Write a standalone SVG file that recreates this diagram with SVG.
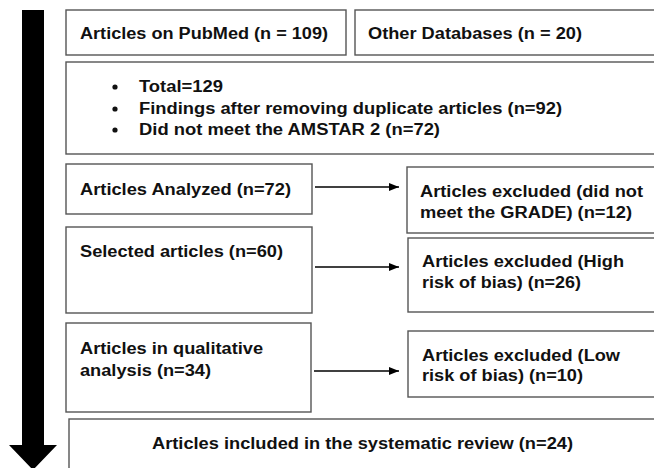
<svg xmlns="http://www.w3.org/2000/svg" width="654" height="468" viewBox="0 0 654 468">
<defs>
<style>
.b{fill:#fff;stroke:#555;stroke-width:1.4}
.t{font-family:"Liberation Sans",Arial,sans-serif;font-weight:bold;font-size:16px;fill:#111}
.c{stroke:#000;stroke-width:1.4;fill:none}
</style>
<marker id="ah" markerWidth="10" markerHeight="8" refX="10" refY="4" orient="auto" markerUnits="userSpaceOnUse">
<path d="M0,0 L10,4 L0,8 Z" fill="#000"/>
</marker>
</defs>
<rect width="654" height="468" fill="#fff"/>
<g id="flow-arrow">
<path d="M22,10 H44 V445 H57 L33,470 L9,445 H22 Z" fill="#000"/>
</g>
<g id="pubmed">
<rect class="b" x="66" y="10" width="280" height="45"/>
<text class="t" x="80" y="39" textLength="248" lengthAdjust="spacingAndGlyphs">Articles on PubMed (n = 109)</text>
</g>
<g id="other">
<rect class="b" x="355" y="10" width="310" height="45"/>
<text class="t" x="368" y="39" textLength="214" lengthAdjust="spacingAndGlyphs">Other Databases (n = 20)</text>
</g>
<g id="screening">
<rect class="b" x="66" y="62" width="600" height="92"/>
<circle cx="115" cy="87" r="2.6" fill="#111"/>
<circle cx="115" cy="109" r="2.6" fill="#111"/>
<circle cx="115" cy="130" r="2.6" fill="#111"/>
<text class="t" x="139" y="92" textLength="84" lengthAdjust="spacingAndGlyphs">Total=129</text>
<text class="t" x="139" y="114" textLength="423" lengthAdjust="spacingAndGlyphs">Findings after removing duplicate articles (n=92)</text>
<text class="t" x="139" y="135" textLength="301" lengthAdjust="spacingAndGlyphs">Did not meet the AMSTAR 2 (n=72)</text>
</g>
<g id="analyzed">
<rect class="b" x="66" y="164" width="246" height="50"/>
<text class="t" x="80" y="195" textLength="211" lengthAdjust="spacingAndGlyphs">Articles Analyzed (n=72)</text>
</g>
<g id="selected">
<rect class="b" x="66" y="227" width="246" height="86"/>
<text class="t" x="80" y="257" textLength="203" lengthAdjust="spacingAndGlyphs">Selected articles (n=60)</text>
</g>
<g id="qualitative">
<rect class="b" x="66" y="323" width="245" height="89"/>
<text class="t" x="80" y="354" textLength="183" lengthAdjust="spacingAndGlyphs">Articles in qualitative</text>
<text class="t" x="80" y="376" textLength="131" lengthAdjust="spacingAndGlyphs">analysis (n=34)</text>
</g>
<g id="included">
<rect class="b" x="69" y="419" width="600" height="60"/>
<text class="t" x="152" y="449" textLength="421" lengthAdjust="spacingAndGlyphs">Articles included in the systematic review (n=24)</text>
</g>
<g id="excl-grade">
<rect class="b" x="407" y="167" width="260" height="66"/>
<text class="t" x="420" y="197" textLength="223" lengthAdjust="spacingAndGlyphs">Articles excluded (did not</text>
<text class="t" x="420" y="218" textLength="212" lengthAdjust="spacingAndGlyphs">meet the GRADE) (n=12)</text>
</g>
<g id="excl-high">
<rect class="b" x="408" y="238" width="260" height="74"/>
<text class="t" x="422" y="267" textLength="202" lengthAdjust="spacingAndGlyphs">Articles excluded (High</text>
<text class="t" x="422" y="288" textLength="159" lengthAdjust="spacingAndGlyphs">risk of bias) (n=26)</text>
</g>
<g id="excl-low">
<rect class="b" x="408" y="331" width="260" height="66"/>
<text class="t" x="422" y="361" textLength="198" lengthAdjust="spacingAndGlyphs">Articles excluded (Low</text>
<text class="t" x="422" y="381" textLength="161" lengthAdjust="spacingAndGlyphs">risk of bias) (n=10)</text>
</g>
<g id="connectors">
<line class="c" x1="315" y1="187" x2="399" y2="187" marker-end="url(#ah)"/>
<line class="c" x1="315" y1="267" x2="399" y2="267" marker-end="url(#ah)"/>
<line class="c" x1="314" y1="371" x2="399" y2="371" marker-end="url(#ah)"/>
</g>
</svg>
